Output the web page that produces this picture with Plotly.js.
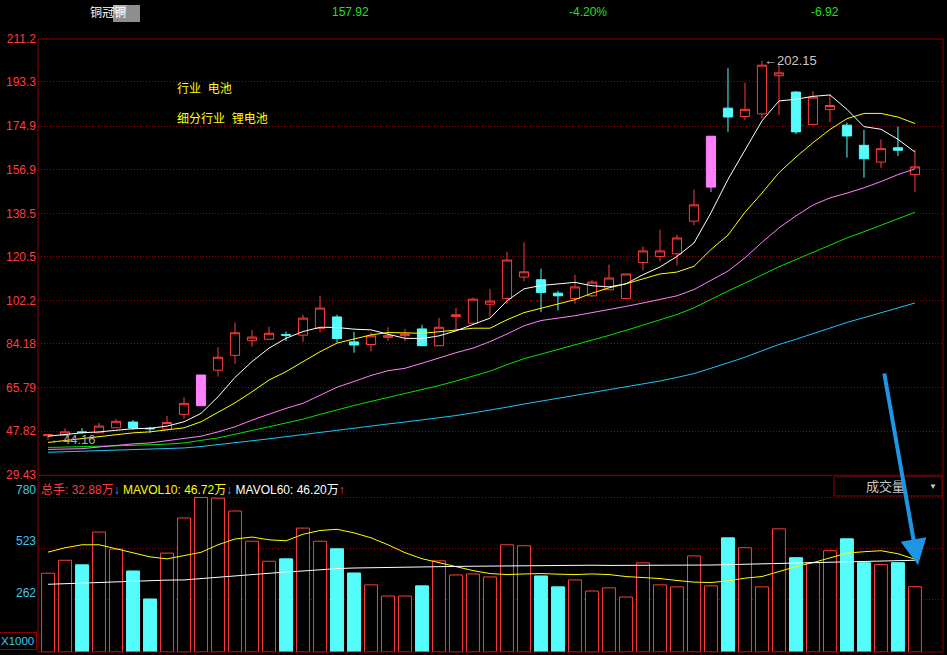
<!DOCTYPE html>
<html>
<head>
<meta charset="utf-8">
<script src="https://cdn.plot.ly/plotly-3.0.1.min.js"></script>
<style>
html,body{margin:0;padding:0;background:#000;overflow:hidden}
#chart{width:947px;height:655px}
</style>
</head>
<body>
<div id="chart"></div>
<script>
// ---------- data ----------
const openP  = [45.9,46.1,47.5,47.1,49.2,51.6,49.0,48.6,54.8,58.4,73.2,79.4,85.5,86.1,88.0,87.8,90.6,95.4,85.0,83.9,86.9,87.6,90.4,83.4,95.6,92.8,100.7,103.1,112.0,110.9,105.3,103.1,104.2,106.7,103.1,118.1,120.6,121.7,135.3,149.5,182.4,178.9,180.0,195.9,189.1,175.6,181.8,175.3,166.9,159.9,165.9,154.7];
const highP  = [46.6,49.0,49.0,51.3,52.8,52.4,49.6,54.1,62.0,71.2,82.8,93.1,90.0,91.3,89.3,96.3,104.2,96.3,89.2,88.9,91.1,90.4,92.1,95.0,99.2,103.4,107.1,122.6,126.4,115.5,106.3,113.0,110.8,117.2,113.3,124.8,131.8,129.7,148.5,170.7,199.1,193.0,202.15,200.5,189.5,189.5,188.1,176.4,173.3,169.4,174.7,165.2];
const lowP   = [44.16,46.0,46.8,47.0,49.2,48.4,47.1,48.4,53.0,58.4,70.5,75.9,83.0,85.8,85.4,84.9,88.9,84.7,80.5,81.0,85.5,85.2,83.3,83.3,90.0,92.0,95.6,100.7,110.2,97.4,98.1,100.9,103.6,106.7,103.1,114.8,118.6,116.8,133.6,147.4,172.5,177.5,178.2,179.4,171.6,175.6,176.6,161.8,153.4,157.4,162.4,147.4];
const closeP = [46.3,47.5,47.3,49.9,51.9,49.1,48.8,51.4,59.4,71.2,78.6,88.8,87.0,88.6,87.8,94.9,99.1,86.4,83.7,87.5,87.6,88.2,83.4,91.1,96.3,102.8,102.0,119.1,114.2,105.6,104.2,107.9,109.9,111.6,113.3,122.9,122.9,128.3,142.1,170.7,178.7,181.9,200.3,197.1,172.5,187.0,183.5,170.8,161.3,165.5,164.84,157.92];
const limitUpDays = [9, 39];   // pink (limit-up) candles

const ma5  = [45.7,46.5,47.1,47.5,48.2,48.8,49.0,49.9,51.7,55.2,62.1,70.2,76.8,82.4,86.5,89.3,91.1,91.0,90.3,90.0,88.2,86.5,86.4,87.5,89.6,92.4,94.9,102.1,107.1,108.5,109.1,109.8,108.4,107.9,109.2,113.0,116.2,120.6,126.2,138.8,152.7,165.2,177.1,185.4,186.1,187.3,187.9,181.9,174.7,173.6,169.4,164.1];
const ma10 = [43.1,43.9,44.6,45.4,46.4,47.1,47.5,48.2,49.2,51.7,55.5,59.6,64.2,69.1,72.6,76.8,80.9,84.5,86.1,87.9,88.9,88.9,88.6,89.2,90.0,90.7,90.7,94.2,97.2,99.1,100.7,102.6,105.3,107.5,109.2,111.2,113.3,114.1,116.5,123.5,129.5,139.0,147.0,155.5,162.0,168.0,173.5,178.0,180.2,180.2,178.7,176.0];
const ma20 = [40.2,40.3,40.5,41.2,41.9,42.5,42.9,43.8,44.6,45.7,47.5,49.6,52.4,54.9,57.3,59.4,62.8,66.1,68.5,71.0,73.0,74.0,76.1,78.4,80.5,82.4,85.1,88.3,91.7,93.9,94.8,95.9,97.2,98.4,99.8,101.2,102.8,104.2,106.8,110.5,114.5,120.0,126.5,132.5,137.5,142.0,145.0,147.0,149.2,151.8,154.7,157.1];
const ma30 = [41.0,41.1,41.2,41.5,41.7,41.9,42.1,42.4,42.9,43.8,45.0,46.5,48.0,49.5,51.0,52.8,54.8,56.8,58.5,60.2,61.8,63.4,65.0,66.8,68.7,70.8,72.8,75.5,78.0,79.9,81.8,83.8,85.7,87.7,89.8,91.9,94.1,96.4,99.2,102.8,106.2,109.5,113.0,116.3,119.3,122.3,125.5,128.3,130.9,133.6,136.3,139.0];
const ma60 = [39.0,39.2,39.4,39.6,39.8,40.0,40.2,40.5,40.8,41.4,42.1,43.0,43.8,44.6,45.5,46.5,47.5,48.3,49.1,49.9,50.8,51.6,52.4,53.3,54.3,55.4,56.5,57.8,59.1,60.3,61.3,62.4,63.6,64.8,66.0,67.3,68.7,70.2,71.8,74.0,76.3,78.6,81.3,83.9,86.1,88.5,90.9,93.1,95.1,97.1,99.2,101.2];

const volume  = [397,462,439,604,518,408,267,498,675,778,775,710,558,457,469,624,558,520,398,338,282,282,333,459,388,393,378,540,535,383,328,363,307,323,277,449,338,328,484,333,575,525,328,620,475,450,510,570,450,440,450,329];
const mavol10 = [503,525,540,540,520,499,479,469,484,502,540,569,579,565,560,593,612,618,600,575,540,500,470,450,430,410,395,390,393,395,392,390,393,390,380,375,370,360,352,350,358,372,380,405,430,450,475,498,505,510,495,467];
const mavol60 = [341,344,346,350,354,358,360,362,363,370,377,385,391,397,403,408,415,420,423,425,426,427,428,430,431,432,433,434,436,437,437,437,437,436,436,437,437,437,438,438,440,442,443,446,448,450,453,455,457,459,461,462];

const priceTicks = [211.2,193.3,174.9,156.9,138.5,120.5,102.2,84.18,65.79,47.82,29.43];
const volTicks   = [780,523,262];

const header = {name:'铜冠铜', price:'157.92', pct:'-4.20%', chg:'-6.92'};
const infoLines = ['行业  电池','细分行业  锂电池'];
const volLegend = {total:'32.88万', mavol10:'46.72万', mavol60:'46.20万'};
const hiLabel = 202.15, loLabel = 44.16;

// ---------- styling ----------
const RED='#ff3c3c', CYAN='#54fcfc', PINK='#ff80ff', GRID='#9a0000', BORDER='#8c0000';
const FONT='Liberation Sans, Arial, Noto Sans CJK SC, sans-serif';

const xs = closeP.map((_, i) => i);
const isLimit = i => limitUpDays.includes(i);
const sel = (arr, f) => arr.filter((_, i) => f(i));

const normal = i => !isLimit(i);
const traces = [];
traces.push({
  type:'candlestick', xaxis:'x', yaxis:'y',
  x: sel(xs, normal), open: sel(openP, normal), high: sel(highP, normal),
  low: sel(lowP, normal), close: sel(closeP, normal),
  increasing:{line:{color:RED,width:1}, fillcolor:'#000000'},
  decreasing:{line:{color:CYAN,width:1}, fillcolor:CYAN},
  whiskerwidth:0, hoverinfo:'skip'
});
traces.push({
  type:'candlestick', xaxis:'x', yaxis:'y',
  x: sel(xs, isLimit), open: sel(openP, isLimit), high: sel(highP, isLimit),
  low: sel(lowP, isLimit), close: sel(closeP, isLimit),
  increasing:{line:{color:PINK,width:1}, fillcolor:PINK},
  decreasing:{line:{color:PINK,width:1}, fillcolor:PINK},
  whiskerwidth:0, hoverinfo:'skip'
});
const maDefs = [[ma60,'#22c4f0'],[ma30,'#00e600'],[ma20,'#ff80ff'],[ma10,'#ffff00'],[ma5,'#ffffff']];
maDefs.forEach(([d,c]) => traces.push({type:'scatter',mode:'lines',x:xs,y:d,xaxis:'x',yaxis:'y',line:{color:c,width:1},hoverinfo:'skip'}));

const up = xs.map(i => closeP[i] >= openP[i]);
traces.push({
  type:'bar', x:xs, y:volume, xaxis:'x', yaxis:'y2', width:0.76,
  marker:{color: up.map(u => u ? '#000000' : CYAN), line:{color: up.map(u => u ? RED : CYAN), width:1}},
  hoverinfo:'skip'
});
traces.push({type:'scatter',mode:'lines',x:xs,y:mavol10,xaxis:'x',yaxis:'y2',line:{color:'#ffff00',width:1},hoverinfo:'skip'});
traces.push({type:'scatter',mode:'lines',x:xs,y:mavol60,xaxis:'x',yaxis:'y2',line:{color:'#ffffff',width:1},hoverinfo:'skip'});

const SPLIT = 0.2883;
const layout = {
  width:947, height:655,
  paper_bgcolor:'#000', plot_bgcolor:'#000',
  margin:{l:38, r:4, t:39, b:3},
  showlegend:false, boxgap:0.23, dragmode:false,
  font:{family:FONT, color:'#ccc'},
  xaxis:{range:[-0.59,52.65], showgrid:false, zeroline:false, showticklabels:false, ticks:'',
         rangeslider:{visible:false}, fixedrange:true},
  yaxis:{domain:[SPLIT,1], range:[29.42,211.21], tickvals:priceTicks, ticktext:priceTicks.map(String),
         tickfont:{color:RED,size:12,family:FONT}, ticks:'', showgrid:true, gridcolor:GRID, gridwidth:1,
         griddash:'1px,2px', zeroline:false, fixedrange:true, ticklabelstandoff:1},
  yaxis2:{domain:[0,SPLIT], range:[0,890], tickvals:volTicks, ticktext:volTicks.map(String),
         tickfont:{color:'#3cc8f0',size:12,family:FONT}, ticks:'', showgrid:true, gridcolor:GRID, gridwidth:1,
         griddash:'1px,2px', zeroline:false, fixedrange:true, ticklabelshift:-7, ticklabelstandoff:1},
  shapes:[
    {type:'rect',xref:'paper',yref:'paper',x0:0,x1:1,y0:0,y1:1,line:{color:BORDER,width:1},layer:'above'},
    {type:'line',xref:'paper',yref:'paper',x0:0,x1:1,y0:SPLIT,y1:SPLIT,line:{color:BORDER,width:1},layer:'above'},
    {type:'rect',xref:'paper',yref:'paper',x0:0.8796,x1:0.9989,y0:0.2545,y1:0.2855,line:{color:BORDER,width:1},fillcolor:'#000',layer:'above'},
    {type:'rect',xref:'paper',yref:'paper',x0:0.0829,x1:0.1127,y0:1.0277,y1:1.0555,line:{width:0},fillcolor:'#8e8e8e',layer:'above'},
    {type:'rect',xref:'paper',yref:'paper',x0:0.0829,x1:0.0975,y0:1.0416,y1:1.0555,line:{width:0},fillcolor:'#b4b4b4',layer:'above'}
  ],
  annotations:[
    {xref:'paper',yref:'paper',x:0.0552,y:1,yshift:27,xanchor:'left',yanchor:'middle',showarrow:false,
     text:header.name,font:{color:'#ffffff',size:12,family:FONT}},
    {xref:'paper',yref:'paper',x:0.3448,y:1,yshift:27,xanchor:'center',yanchor:'middle',showarrow:false,
     text:header.price,font:{color:'#20e020',size:12,family:FONT}},
    {xref:'paper',yref:'paper',x:0.6077,y:1,yshift:27,xanchor:'center',yanchor:'middle',showarrow:false,
     text:header.pct,font:{color:'#20e020',size:12,family:FONT}},
    {xref:'paper',yref:'paper',x:0.8696,y:1,yshift:27,xanchor:'center',yanchor:'middle',showarrow:false,
     text:header.chg,font:{color:'#20e020',size:12,family:FONT}},
    {xref:'paper',yref:'paper',x:0.1514,y:0.918,xanchor:'left',yanchor:'middle',showarrow:false,
     text:infoLines[0].replace(/ /g,'&nbsp;'),font:{color:'#ffff00',size:12,family:FONT}},
    {xref:'paper',yref:'paper',x:0.1514,y:0.8695,xanchor:'left',yanchor:'middle',showarrow:false,
     text:infoLines[1].replace(/ /g,'&nbsp;'),font:{color:'#ffff00',size:12,family:FONT}},
    {xref:'x',yref:'y',x:highP.indexOf(hiLabel),y:hiLabel,xanchor:'left',yanchor:'middle',showarrow:false,
     text:'←'+hiLabel.toFixed(2),font:{color:'#c8c8c8',size:13,family:FONT}},
    {xref:'x',yref:'y',x:lowP.indexOf(loLabel),y:loLabel,xanchor:'left',yanchor:'middle',showarrow:false,
     text:'←'+loLabel.toFixed(2),font:{color:'#a8a8a8',size:13,family:FONT}},
    {xref:'paper',yref:'paper',x:0,y:0.2643,xshift:1,xanchor:'left',yanchor:'middle',showarrow:false,
     text:'<span style="color:'+RED+'">总手: '+volLegend.total+'</span><span style="color:#33aaff">↓</span> '+
          '<span style="color:#ffff00">MAVOL10: '+volLegend.mavol10+'</span><span style="color:#33aaff">↓</span> '+
          '<span style="color:#ffffff">MAVOL60: '+volLegend.mavol60+'</span><span style="color:'+RED+'">↑</span>',
     font:{size:12,family:FONT}},
    {xref:'paper',yref:'paper',x:0.937,y:0.27,xanchor:'center',yanchor:'middle',showarrow:false,
     text:'成交量',font:{color:'#c8c8c8',size:13,family:FONT}},
    {xref:'paper',yref:'paper',x:0.989,y:0.27,xanchor:'center',yanchor:'middle',showarrow:false,
     text:'▼',font:{color:'#c8c8c8',size:8,family:FONT}},
    {xref:'paper',yref:'paper',x:0,y:0,xshift:-1,yshift:2,xanchor:'right',yanchor:'bottom',showarrow:false,
     text:'X1000',bordercolor:BORDER,borderwidth:1,borderpad:2,font:{color:'#3cc8f0',size:11.5,family:FONT}},
    {xref:'paper',yref:'paper',x:0.9724,y:0.1419,ax:-34,ay:-193,showarrow:true,arrowhead:2,arrowsize:1.3,
     arrowwidth:4,arrowcolor:'#1e96e6',text:''}
  ]
};

Plotly.newPlot('chart', traces, layout, {staticPlot:true, displayModeBar:false});
</script>
</body>
</html>
